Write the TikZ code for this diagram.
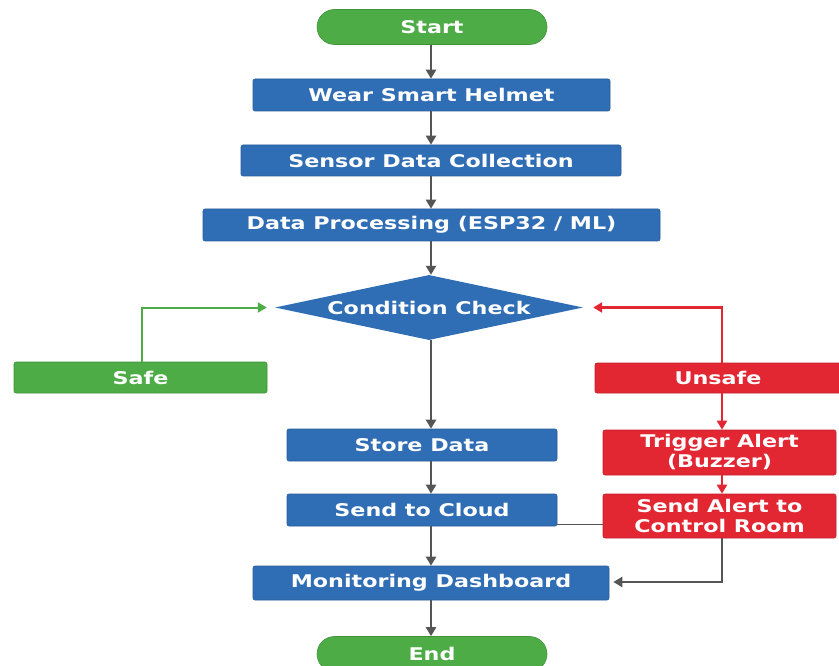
\documentclass[tikz,border=0pt]{standalone}
\usepackage{fontspec}
\setmainfont{DejaVu Sans}[FakeStretch=1.27]
\usetikzlibrary{shapes.geometric,arrows.meta}
\definecolor{cblue}{HTML}{2F6DB5}
\definecolor{cgreen}{HTML}{4DAC46}
\definecolor{cred}{HTML}{E22733}
\definecolor{carrow}{HTML}{555555}
\tikzset{
  txt/.style={text=white,font=\fontsize{17.5}{20}\selectfont\bfseries,align=center,inner sep=0pt},
  bluebox/.style={txt,rectangle,rounded corners=2pt,fill=cblue,draw=cblue!85!black,line width=0.6pt},
  greenbox/.style={txt,rectangle,rounded corners=2pt,fill=cgreen,draw=cgreen!85!black,line width=0.6pt},
  redbox/.style={txt,rectangle,rounded corners=2pt,fill=cred,draw=cred!85!black,line width=0.6pt},
  term/.style={txt,rectangle,rounded corners=17.5pt,fill=cgreen,draw=cgreen!85!black,line width=0.6pt,minimum width=230pt,minimum height=35pt},
  arr/.style={draw=carrow,line width=2.2pt,-{Triangle[length=9pt,width=10pt]}},
  garr/.style={draw=cgreen,line width=2pt,-{Triangle[length=9pt,width=10pt]}},
  rarr/.style={draw=cred,line width=2.2pt,-{Triangle[length=9pt,width=10pt]}},
  thinline/.style={draw=carrow,line width=0.8pt},
}
\begin{document}
\begin{tikzpicture}[x=1pt,y=-1pt]
\useasboundingbox[fill=white] (0,0) rectangle (839,666);
\coordinate (mx) at (431,0);
\coordinate (rx) at (722,0);
\node[term] (start) at (432,27) {Start};
\node[bluebox,minimum width=357pt,minimum height=32pt] (wear) at (431.5,95) {Wear Smart Helmet};
\node[bluebox,minimum width=380pt,minimum height=31pt] (sensor) at (431,160.5) {Sensor Data Collection};
\node[bluebox,minimum width=457pt,minimum height=32pt] (proc) at (431.5,225) {Data Processing (ESP32 / ML)};
\node[diamond,fill=cblue,minimum width=308pt,minimum height=65pt,inner sep=0pt,
  label={[txt]center:Condition Check}] (cond) at (429,307.5) {};
\node[greenbox,minimum width=253pt,minimum height=31pt] (safe) at (140.5,377.5) {Safe};
\node[redbox,minimum width=246pt,minimum height=30pt] (unsafe) at (718,378) {Unsafe};
\node[redbox,minimum width=233pt,minimum height=45pt] (trig) at (719.5,452.5) {Trigger Alert\\(Buzzer)};
\node[redbox,minimum width=233pt,minimum height=44pt] (alert) at (719.5,516) {Send Alert to\\Control Room};
\node[bluebox,minimum width=270pt,minimum height=32pt] (store) at (422,445) {Store Data};
\node[bluebox,minimum width=270pt,minimum height=32pt] (cloud) at (422,510) {Send to Cloud};
\node[bluebox,minimum width=356pt,minimum height=34pt] (dash) at (431,583) {Monitoring Dashboard};
\node[term] (end) at (432,654) {End};

\draw[arr] (start.south -| mx) -- (wear.north -| mx);
\draw[arr] (wear.south -| mx) -- (sensor.north -| mx);
\draw[arr] (sensor.south -| mx) -- (proc.north -| mx);
\draw[arr] (proc.south -| mx) -- (cond.north -| mx);
\draw[arr] (cond.south -| mx) -- (store.north -| mx);
\draw[arr] (store.south -| mx) -- (cloud.north -| mx);
\draw[arr] (cloud.south -| mx) -- (dash.north -| mx);
\draw[arr] (dash.south -| mx) -- (end.north -| mx);
\draw[garr,shorten >=8pt] ([xshift=1.5pt]safe.north) |- (cond.west);
\draw[rarr,shorten >=10pt] (unsafe.north -| rx) |- (cond.east);
\draw[rarr] (unsafe.south -| rx) -- (trig.north -| rx);
\draw[rarr] (trig.south -| rx) -- (alert.north -| rx);
\coordinate (dy) at (0,582);
\draw[arr,shorten >=4pt] (alert.south -| rx) -- (dy -| rx) -- (dy -| dash.east);
\draw[thinline] ([yshift=-14pt]cloud.east) -- ([yshift=-14pt]cloud.east -| alert.west);
\end{tikzpicture}
\end{document}
